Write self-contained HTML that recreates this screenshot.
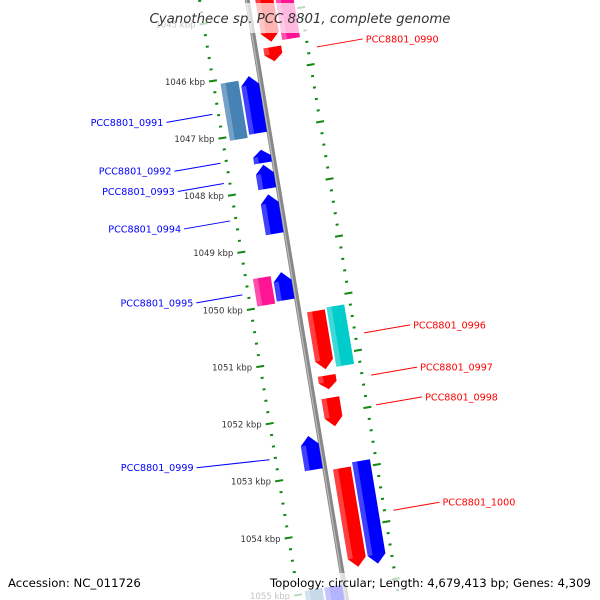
<!DOCTYPE html>
<html><head><meta charset="utf-8"><style>
html,body{margin:0;padding:0;background:#fff;width:600px;height:600px;overflow:hidden}
svg{display:block;overflow:hidden;font-family:"DejaVu Sans","Liberation Sans",sans-serif}
</style></head><body>
<svg id="map" width="600" height="600" viewBox="0 0 600 600" xmlns="http://www.w3.org/2000/svg">
<g id="axis"></g>
<g id="genes"></g>
<g id="labels"></g>
<rect x="145" y="3" width="310" height="30" fill="#fff" opacity="0.7"/>
<text x="300" y="23" text-anchor="middle" font-size="13.3" font-style="italic" fill="#333">Cyanothece sp. PCC 8801, complete genome</text>
<rect x="0" y="573" width="600" height="27" fill="#fff" opacity="0.7"/>
<text x="8" y="587" font-size="11.7" fill="#000">Accession: NC_011726</text>
<text x="591" y="587" text-anchor="end" font-size="11.7" fill="#000">Topology: circular; Length: 4,679,413 bp; Genes: 4,309</text>
</svg>
<script>
// ---- data ----
const tickKbp = [1045,1046,1047,1048,1049,1050,1051,1052,1053,1054,1055];
const geneStart = [1044.70,1044.70,1045.59,1046.07,1046.02,1047.31,1047.57,1048.09,1049.49,1049.45,1050.21,1050.18,1051.34,1051.73,1052.32,1052.96,1052.89,1054.95,1054.95];
const geneEnd   = [1045.50,1045.50,1045.84,1047.07,1047.02,1047.54,1047.99,1048.78,1049.97,1049.94,1051.23,1051.22,1051.58,1052.23,1052.91,1054.69,1054.69,1055.60,1055.60];
const geneStrand= [1,0,1,0,-1,-1,-1,-1,0,-1,1,0,1,1,-1,1,1,0,0];
const geneLane  = ["A","B","A","D","C","C","C","C","D","C","A","B","A","A","C","A","B","D","C"];
const geneColor = ["#ff0000","#ff1493","#ff0000","#4682b4","#0000ff","#0000ff","#0000ff","#0000ff","#ff1493","#0000ff","#ff0000","#00cccc","#ff0000","#ff0000","#0000ff","#ff0000","#0000ff","#4682b4","#0000ff"];
const geneLabel = ["","","PCC8801_0990","PCC8801_0991","","PCC8801_0992","PCC8801_0993","PCC8801_0994","PCC8801_0995","","PCC8801_0996","","PCC8801_0997","PCC8801_0998","PCC8801_0999","PCC8801_1000","","",""];
const labelSide = [0,0,1,-1,0,-1,-1,-1,-1,0,1,0,1,1,-1,1,0,0,0];

// ---- geometry ----
const KPX = 57.9, K0 = 1046, TX = 254.4, TY = 74, C = 0.9866, S = 0.1633;
const laneU = {A:[13,31],B:[33,51],C:[-15,3],D:[-35,-17]};
function vOf(k){return (k-K0)*KPX;}
function P(u,v){return [TX + C*u + S*v, TY - S*u + C*v];}
function pts(arr){return arr.map(p=>P(p[0],p[1]).map(n=>n.toFixed(1)).join(",")).join(" ");}
const NS="http://www.w3.org/2000/svg";
function mk(tag,attrs,parent){const e=document.createElementNS(NS,tag);for(const k in attrs)e.setAttribute(k,attrs[k]);parent.appendChild(e);return e;}

const axis=document.getElementById("axis");
const b0=P(5,vOf(1044.2)), b1=P(5,vOf(1055.5));
const bb=mk("line",{x1:b0[0],y1:b0[1],x2:b1[0],y2:b1[1],stroke:"#888","stroke-width":5},axis);


const bh=mk("line",{x1:b0[0]-1,y1:b0[1],x2:b1[0]-1,y2:b1[1],stroke:"#bbb","stroke-width":1.2},axis);



for(let k=1044.2;k<=1055.5;k+=0.2){
  const kr=Math.round(k*10)/10;
  const major=Math.abs(kr-Math.round(kr))<0.01;
  const v=vOf(kr);
  [-42,57].forEach(uc=>{
    const half=major?4:1.5;
    const a=P(uc-half,v), b=P(uc+half,v);
    const l=mk("line",{x1:a[0],y1:a[1],x2:b[0],y2:b[1],stroke:"#118811","stroke-width":2},axis);
    
    
  });
}
tickKbp.forEach(k=>{
  const p=P(-42,vOf(k));
  const t=mk("text",{x:(p[0]-8).toFixed(1),y:(p[1]+4).toFixed(1),"text-anchor":"end","font-size":"8.5",fill:"#333"},axis);
  t.textContent=k+" kbp";
  
  
});

const gg=document.getElementById("genes"), lg=document.getElementById("labels");
geneStart.forEach((s,i)=>{
  const v1=vOf(s), v2=vOf(geneEnd[i]);
  const [u1,u2]=laneU[geneLane[i]], um=(u1+u2)/2, ah=Math.min(9,(v2-v1)*0.5);
  let poly;
  if(geneStrand[i]===1) poly=[[u1,v1],[u2,v1],[u2,v2-ah],[um,v2],[u1,v2-ah]];
  else if(geneStrand[i]===-1) poly=[[um,v1],[u2,v1+ah],[u2,v2],[u1,v2],[u1,v1+ah]];
  else poly=[[u1,v1],[u2,v1],[u2,v2],[u1,v2]];
  const g=mk("polygon",{points:pts(poly),fill:geneColor[i]},gg);
  
  
  const us=u1+(u2-u1)*0.28;
  const sv1=geneStrand[i]===-1?v1+ah:v1, sv2=geneStrand[i]===1?v2-ah:v2;
  const st=mk("polygon",{points:pts([[u1,sv1],[us,sv1],[us,sv2],[u1,sv2]]),fill:"#fff",opacity:"0.25"},gg);
  
  
  if(geneLabel[i]){
    const vm=(v1+v2)/2, side=labelSide[i];
    const col=side<0?"#0000ff":"#ff0000";
    const a=P(side<0?-48:66,vm);
    const len=side<0?(i===14?73:46):46;
    const b=[a[0]+side*len,a[1]+8*(side<0?1:-1)];
    const ln=mk("line",{x1:a[0],y1:a[1],x2:b[0],y2:b[1],stroke:col,"stroke-width":1},lg);
    
    
    const t=mk("text",{x:(b[0]+side*3).toFixed(1),y:(b[1]+3.5).toFixed(1),"text-anchor":side<0?"end":"start","font-size":"9.6",fill:col},lg);
    t.textContent=geneLabel[i];
    
    
  }
});
</script>
</body></html>
